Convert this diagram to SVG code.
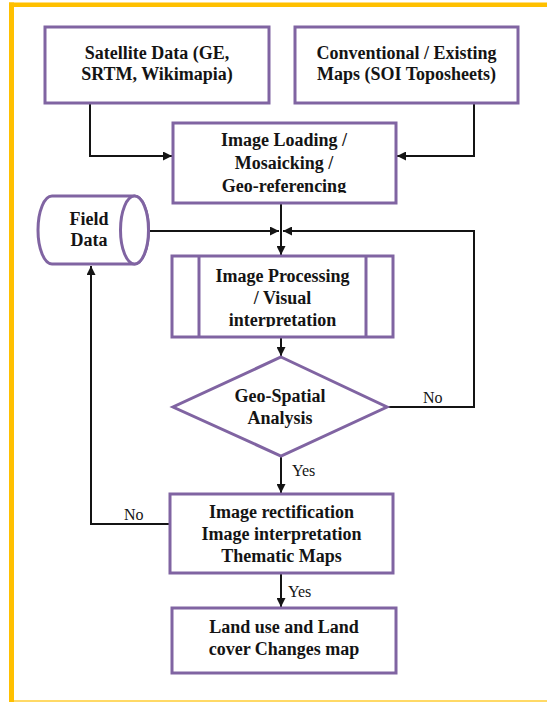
<svg xmlns="http://www.w3.org/2000/svg" width="547" height="702" viewBox="0 0 547 702">
<style>
.box{fill:#fff;stroke:#8064A2;stroke-width:3}
.t{font-family:"Liberation Serif",serif;font-weight:bold;font-size:18px;fill:#141414;text-anchor:middle}
.lbl{font-family:"Liberation Serif",serif;font-size:16px;fill:#141414}
.c{fill:none;stroke:#141414;stroke-width:2}
.ca{fill:none;stroke:#141414;stroke-width:2;marker-end:url(#ah)}
</style>
<defs>
<marker id="ah" markerUnits="userSpaceOnUse" markerWidth="9" markerHeight="9" refX="9" refY="4.5" orient="auto">
<path d="M0,0 L9,4.5 L0,9 z" fill="#141414"/>
</marker>
<clipPath id="clip3"><rect x="173" y="123" width="223" height="70"/></clipPath>
<clipPath id="clip4"><rect x="172" y="256" width="221" height="71"/></clipPath>
</defs>
<rect width="547" height="702" fill="#fff"/>
<g id="frame">
<rect x="9" y="2.5" width="538" height="4.5" fill="#FFC000"/>
<rect x="9" y="2.5" width="5" height="699.5" fill="#FFC000"/>
<rect x="14" y="700" width="533" height="2" fill="#FFD966"/>
</g>
<g id="connectors">
<path class="ca" d="M90,103 V156 H172"/>
<path class="ca" d="M474,103 V156 H397"/>
<path class="ca" d="M281,203 V255"/>
<path class="ca" d="M148,231 H279"/>
<path class="ca" d="M387,407 H474 V231 H283"/>
<path class="ca" d="M281,337 V356"/>
<path class="ca" d="M281,456 V493"/>
<path class="ca" d="M170,524 H91 V266"/>
<path class="ca" d="M281,573 V607"/>
<text class="lbl" x="423" y="403">No</text>
<text class="lbl" x="292" y="476">Yes</text>
<text class="lbl" x="124" y="520">No</text>
<text class="lbl" x="288" y="597">Yes</text>
</g>
<g id="satellite">
<rect class="box" x="45" y="27" width="224" height="76"/>
<text class="t" x="157" y="59">Satellite Data (GE,</text>
<text class="t" x="157" y="80">SRTM, Wikimapia)</text>
</g>
<g id="conventional">
<rect class="box" x="295" y="27" width="223" height="76"/>
<text class="t" x="406.5" y="59">Conventional / Existing</text>
<text class="t" x="406.5" y="80">Maps (SOI Toposheets)</text>
</g>
<g id="loading">
<rect class="box" x="173" y="123" width="223" height="80"/>
<g clip-path="url(#clip3)">
<text class="t" x="284" y="146">Image Loading /</text>
<text class="t" x="284" y="169">Mosaicking /</text>
<text class="t" x="284" y="192">Geo-referencing</text>
</g>
</g>
<g id="fielddata">
<path class="box" d="M52,196 H134.5 A14,34 0 0 1 134.5,264 H52 A14,34 0 0 1 52,196 Z"/>
<ellipse class="box" cx="134.5" cy="230" rx="14" ry="34"/>
<text class="t" x="89" y="225">Field</text>
<text class="t" x="89" y="246">Data</text>
</g>
<g id="processing">
<rect class="box" x="172" y="256" width="221" height="81"/>
<line class="box" x1="199" y1="256" x2="199" y2="337"/>
<line class="box" x1="366" y1="256" x2="366" y2="337"/>
<g clip-path="url(#clip4)">
<text class="t" x="282.5" y="282">Image Processing</text>
<text class="t" x="282.5" y="304">/ Visual</text>
<text class="t" x="282.5" y="326">interpretation</text>
</g>
</g>
<g id="analysis">
<polygon class="box" points="281,357 387,407 281,456 173,407"/>
<text class="t" x="280" y="402">Geo-Spatial</text>
<text class="t" x="280" y="424">Analysis</text>
</g>
<g id="rectification">
<rect class="box" x="170" y="494" width="223" height="79"/>
<text class="t" x="281.5" y="518">Image rectification</text>
<text class="t" x="281.5" y="540">Image interpretation</text>
<text class="t" x="281.5" y="562">Thematic Maps</text>
</g>
<g id="landuse">
<rect class="box" x="172" y="608" width="224" height="65"/>
<text class="t" x="284" y="633">Land use and Land</text>
<text class="t" x="284" y="655">cover Changes map</text>
</g>
</svg>
